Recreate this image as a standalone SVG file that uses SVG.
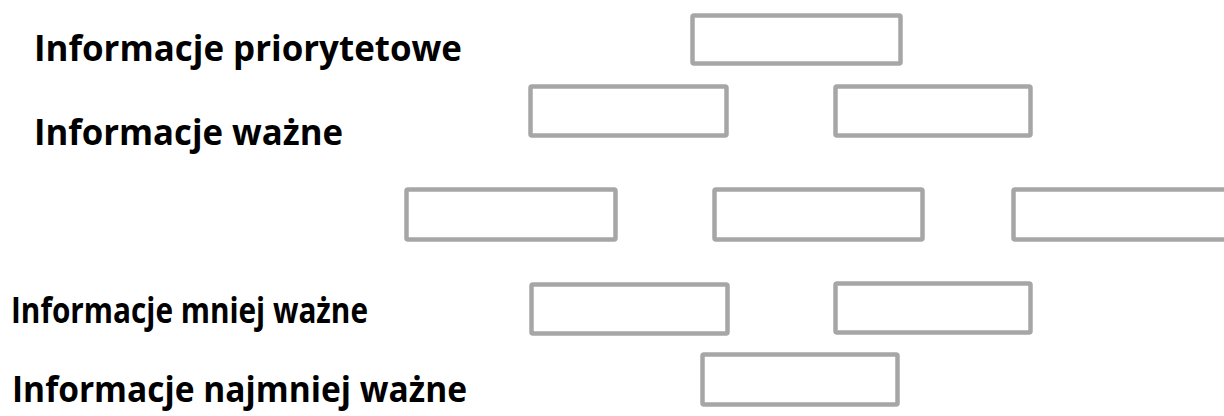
<svg xmlns="http://www.w3.org/2000/svg" width="1224" height="416" viewBox="0 0 1224 416">
<style>
.box{fill:#ffffff;stroke:#a6a6a6;stroke-width:4.5}
.lbl{font-family:"Open Sans","Noto Sans","Liberation Sans",sans-serif;font-weight:bold;font-size:35px;fill:#000000}
</style>
<rect width="1224" height="416" fill="#ffffff"/>
<g id="labels">
<text class="lbl" x="34" y="61" textLength="428" lengthAdjust="spacingAndGlyphs">Informacje priorytetowe</text>
<text class="lbl" x="34" y="145" textLength="309" lengthAdjust="spacingAndGlyphs">Informacje ważne</text>
<text class="lbl" x="11" y="323" textLength="357" lengthAdjust="spacingAndGlyphs">Informacje mniej ważne</text>
<text class="lbl" x="12" y="402" textLength="455" lengthAdjust="spacingAndGlyphs">Informacje najmniej ważne</text>
</g>
<g id="box-top"><rect class="box" x="692.5" y="15.5" width="208" height="48" rx="1.5"/></g>
<g id="box-r2-1"><rect class="box" x="530.5" y="86.5" width="196" height="49" rx="1.5"/></g>
<g id="box-r2-2"><rect class="box" x="835.5" y="86.5" width="195" height="49" rx="1.5"/></g>
<g id="box-r3-1"><rect class="box" x="406.5" y="189.5" width="209" height="50" rx="1.5"/></g>
<g id="box-r3-2"><rect class="box" x="714.5" y="189.5" width="208" height="50" rx="1.5"/></g>
<g id="box-r3-3"><rect class="box" x="1013.5" y="189.5" width="215" height="50" rx="1.5"/></g>
<g id="box-r4-1"><rect class="box" x="531.5" y="284.5" width="196" height="49" rx="1.5"/></g>
<g id="box-r4-2"><rect class="box" x="835.5" y="283.5" width="195" height="49" rx="1.5"/></g>
<g id="box-r5"><rect class="box" x="702.5" y="354.5" width="195" height="50" rx="1.5"/></g>
<g id="connectors"></g>
</svg>
